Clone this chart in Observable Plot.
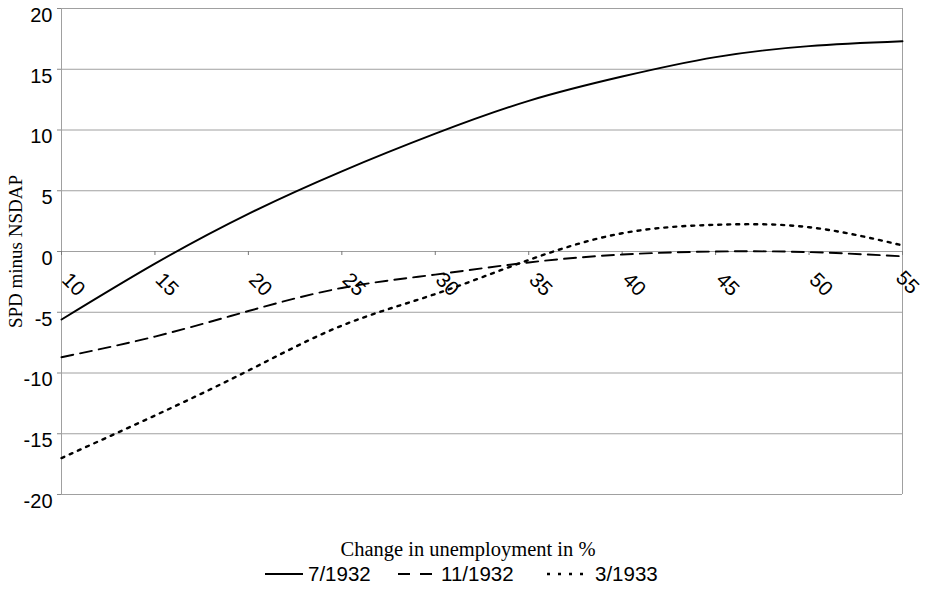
<!DOCTYPE html>
<html>
<head>
<meta charset="utf-8">
<script src="https://cdn.jsdelivr.net/npm/d3@7"></script>
<script src="https://cdn.jsdelivr.net/npm/@observablehq/plot@0.6"></script>
<style>
  body { margin: 0; background: white; }
  #wrap { position: relative; width: 925px; height: 589px; overflow: hidden; }
  #caption { position: absolute; left: 0; width: 936px; top: 539px; text-align: center;
    font-family: "Liberation Serif", "Times New Roman", serif; font-size: 20.5px; line-height: 20px; }
  #legend { position: absolute; left: 0; top: 564px; width: 925px; height: 22px;
    font-family: "Liberation Sans", Arial, sans-serif; font-size: 20.5px; line-height: 20px; }
  #legend .sw { position: absolute; top: 5px; }
  #legend .lab { position: absolute; top: 0; }
</style>
</head>
<body>
<div id="wrap">
  <div id="plot"></div>
  <div id="caption"></div>
  <div id="legend"></div>
</div>
<script>
const unemployment = [10, 15, 20, 25, 30, 35, 40, 45, 50, 55];
const jul1932 = [-5.6, -1.0, 3.1, 6.6, 9.7, 12.4, 14.4, 16.0, 16.9, 17.3];
const nov1932 = [-8.7, -7.0, -4.9, -3.0, -1.9, -0.9, -0.25, 0.0, -0.05, -0.4];
const mar1933 = [-17.0, -13.5, -9.8, -6.1, -3.5, -0.7, 1.5, 2.2, 2.0, 0.5];
const seriesNames = ["7/1932", "11/1932", "3/1933"];
const seriesDash = [null, "12,7", "3,6"];
const xTicks = [10, 15, 20, 25, 30, 35, 40, 45, 50, 55];
const yTicks = [-20, -15, -10, -5, 0, 5, 10, 15, 20];
const xTitle = "Change in unemployment in %";
const yTitle = "SPD minus NSDAP";

const seriesValues = [jul1932, nov1932, mar1933];
const rows = seriesValues.map((vals, s) => unemployment.map((u, i) => ({x: u, y: vals[i], s})));

const sans = "Liberation Sans, Arial, sans-serif";
const serif = "Liberation Serif, Times New Roman, serif";

const lineMarks = rows.map((r, s) => Plot.line(r, {
  x: "x", y: "y", curve: "natural", stroke: "black",
  strokeWidth: s === 2 ? 2.4 : 1.9,
  strokeDasharray: seriesDash[s] || undefined
}));

const lastTick = xTicks[xTicks.length - 1];

const chart = Plot.plot({
  width: 925, height: 530,
  marginTop: 8, marginLeft: 61, marginRight: 23, marginBottom: 36,
  x: {domain: [10, 55], axis: null},
  y: {domain: [-20, 20], axis: null},
  style: {fontFamily: sans, background: "white", color: "black", overflow: "hidden"},
  marks: [
    Plot.ruleY(yTicks, {y: d => d, stroke: "#a0a0a0", strokeWidth: 1, strokeOpacity: 1}),
    Plot.ruleX([xTicks[0], lastTick], {x: d => d, stroke: "#a0a0a0", strokeWidth: 1, strokeOpacity: 1}),
    Plot.ruleY(yTicks, {y: d => d, x1: () => xTicks[0], x2: () => xTicks[0], insetLeft: -4, stroke: "#888", strokeOpacity: 1}),
    Plot.text(yTicks, {y: d => d, frameAnchor: "left", text: d => String(d), textAnchor: "end", dx: -9, dy: 7, fontSize: 20, fontFamily: sans, fill: "black"}),
    Plot.ruleX(xTicks, {x: d => d, y1: () => 0, y2: () => 0, insetBottom: -4, stroke: "#777", strokeOpacity: 1}),
    Plot.text(xTicks.filter(d => d !== lastTick), {x: d => d, y: () => 0, text: d => String(d), rotate: 45, dx: 12, dy: 33, textAnchor: "middle", fontSize: 20.5, fontFamily: sans, fill: "black"}),
    Plot.text([lastTick], {x: d => d, y: () => 0, text: d => String(d), rotate: 45, dx: 5, dy: 31, textAnchor: "middle", fontSize: 20.5, fontFamily: sans, fill: "black"}),
    ...lineMarks,
    Plot.text([yTitle], {frameAnchor: "left", rotate: -90, dx: -46, text: d => d, fontSize: 19, fontFamily: serif, fill: "black", textAnchor: "middle"})
  ]
});
document.getElementById("plot").appendChild(chart);

document.getElementById("caption").textContent = xTitle;

const swLeft = [265, 398, 547];
const labLeft = [308, 441, 595];
const legend = d3.select("#legend");
seriesNames.forEach((name, s) => {
  const sw = legend.append("svg").attr("class", "sw").style("left", swLeft[s] + "px")
    .attr("width", 38).attr("height", 10);
  sw.append("line").attr("x1", 0).attr("x2", s === 1 ? 34 : 38).attr("y1", 5).attr("y2", 5)
    .attr("stroke", "black").attr("stroke-width", s === 2 ? 2.4 : 1.9)
    .attr("stroke-dasharray", s === 1 ? "12,10" : s === 2 ? "3,8" : null);
  legend.append("span").attr("class", "lab").style("left", labLeft[s] + "px").text(name);
});
</script>
</body>
</html>
